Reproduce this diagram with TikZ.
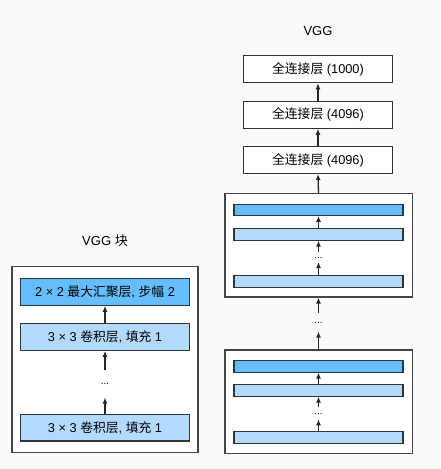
\documentclass[tikz,border=0pt]{standalone}
\usepackage{fontspec}
\setmainfont{Liberation Sans}
\newfontfamily\cjk{Noto Sans CJK SC}
\usetikzlibrary{arrows.meta}
\definecolor{poolc}{HTML}{64BEFE}
\definecolor{convc}{HTML}{B2DAFE}
\definecolor{bgc}{HTML}{FAFAFA}
\definecolor{edgec}{HTML}{333333}
\definecolor{outerc}{HTML}{444444}
\tikzset{
  outerbox/.style={draw=outerc, line width=1.3pt, fill=white},
  layerbox/.style={draw=edgec, line width=1.1pt, inner sep=0pt, font=\fontsize{12.8}{14}\selectfont},
  poolbox/.style={layerbox, fill=poolc},
  convbox/.style={layerbox, fill=convc},
  fcbox/.style={layerbox, fill=white},
  arr/.style={-{Latex[length=6pt,width=5pt]}, line width=1.3pt, black!85},
  dotsn/.style={inner sep=0pt, font=\fontsize{10}{11}\selectfont},
  title/.style={font=\fontsize{13}{15}\selectfont}
}
\begin{document}
\begin{tikzpicture}[x=1pt,y=-1pt]
\fill[bgc] (0,0) rectangle (440,469);
\useasboundingbox (0,0) rectangle (440,469);
% ---- left: VGG block ----
\node[title] (lt) at (105,241) {VGG {\cjk 块}};
\node[outerbox, minimum width=186pt, minimum height=186pt, inner sep=0pt] (lbox) at (105,359.7) {};
\node[poolbox, minimum width=168.6pt, minimum height=26.6pt] (lp) at (105,292) {2 × 2 {\cjk 最大汇聚层}, {\cjk 步幅} 2};
\node[convbox, minimum width=168.6pt, minimum height=26.6pt] (lc1) at (105,337) {3 × 3 {\cjk 卷积层}, {\cjk 填充} 1};
\node[dotsn] (ld) at (105,384) {...};
\node[convbox, minimum width=168.6pt, minimum height=26.6pt] (lc2) at (105,427.7) {3 × 3 {\cjk 卷积层}, {\cjk 填充} 1};
\coordinate (ld1) at (105,370);
\coordinate (ld2) at (105,397.5);
\draw[arr] (lc1.north) -- (lp.south);
\draw[arr] (ld1) -- (lc1.south);
\draw[arr] (lc2.north) -- (ld2);
% ---- right: VGG ----
\node[title] (rt) at (318,31) {VGG};
\node[fcbox, minimum width=148.4pt, minimum height=27pt] (f1) at (318,69.2) {{\cjk 全连接层} (1000)};
\node[fcbox, minimum width=148.4pt, minimum height=27pt] (f2) at (318,114.7) {{\cjk 全连接层} (4096)};
\node[fcbox, minimum width=148.4pt, minimum height=27pt] (f3) at (318,160) {{\cjk 全连接层} (4096)};
\draw[arr] (f2.north) -- (f1.south);
\draw[arr] (f3.north) -- (f2.south);
% block 1
\node[outerbox, minimum width=187.3pt, minimum height=103.3pt, inner sep=0pt] (b1) at (318.5,245.3) {};
\node[poolbox, minimum width=169pt, minimum height=11.3pt] (b1p) at (318.5,209.7) {};
\node[convbox, minimum width=169pt, minimum height=11.7pt] (b1c) at (318.5,234.2) {};
\node[dotsn] (b1d) at (318.5,258) {...};
\node[convbox, minimum width=169pt, minimum height=11.7pt] (b1c2) at (318.5,281.2) {};
\coordinate (b1d1) at (318.5,251.5);
\coordinate (b1d2) at (318.5,262);
\draw[arr] (b1c.north) -- (b1p.south);
\draw[arr] (b1d1) -- (b1c.south);
\draw[arr] (b1c2.north) -- (b1d2);
\draw[arr] (b1.north) -- (f3.south);
% between blocks
\node[dotsn] (md) at (318.5,322.5) {...};
\coordinate (md1) at (318.5,312.7);
\coordinate (md2) at (318.5,331.7);
\draw[arr] (md1) -- (b1.south);
% block 2
\node[outerbox, minimum width=187.3pt, minimum height=103.3pt, inner sep=0pt] (b2) at (318.5,401.7) {};
\node[poolbox, minimum width=169pt, minimum height=11.7pt] (b2p) at (318.5,366.2) {};
\node[convbox, minimum width=169pt, minimum height=11.7pt] (b2c) at (318.5,390.2) {};
\node[dotsn] (b2d) at (318.5,414) {...};
\node[convbox, minimum width=169pt, minimum height=11.7pt] (b2c2) at (318.5,437.5) {};
\coordinate (b2d1) at (318.5,406.7);
\coordinate (b2d2) at (318.5,419.3);
\draw[arr] (b2c.north) -- (b2p.south);
\draw[arr] (b2d1) -- (b2c.south);
\draw[arr] (b2c2.north) -- (b2d2);
\draw[arr] (b2.north) -- (md2);
\end{tikzpicture}
\end{document}
